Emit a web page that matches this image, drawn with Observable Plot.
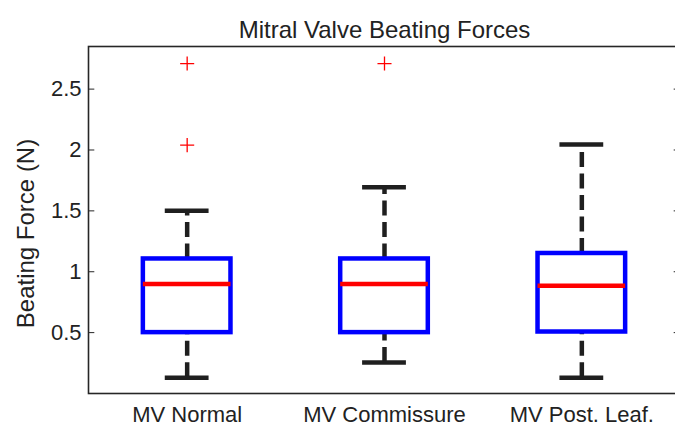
<!DOCTYPE html>
<html><head><meta charset="utf-8">
<script src="https://cdn.jsdelivr.net/npm/d3@7"></script>
<script src="https://cdn.jsdelivr.net/npm/@observablehq/plot@0.6"></script>
<style>html,body{margin:0;padding:0;background:#fff;overflow:hidden;width:675px;height:428px}</style>
</head><body><div id="chart"></div>
<script>
const title = "Mitral Valve Beating Forces";
const yLabel = "Beating Force (N)";
const categories = ["MV Normal", "MV Commissure", "MV Post. Leaf."];
const whiskerLow = [0.13, 0.255, 0.13];
const q1 = [0.5, 0.5, 0.505];
const median = [0.9, 0.9, 0.885];
const q3 = [1.105, 1.105, 1.15];
const whiskerHigh = [1.5, 1.695, 2.045];
const outlierGroup = ["MV Normal", "MV Normal", "MV Commissure"];
const outlierValue = [2.71, 2.04, 2.71];
const yTicks = [0.5, 1, 1.5, 2, 2.5];

const positions = categories.map((d, i) => i + 1);
const boxes = categories.map((c, i) => ({pos: i + 1, lo: whiskerLow[i], q1: q1[i], med: median[i], q3: q3[i], hi: whiskerHigh[i]}));
const outliers = outlierGroup.map((c, i) => ({pos: categories.indexOf(c) + 1, value: outlierValue[i]}));
const boxHalf = 0.222, capHalf = 0.111, tickLen = 0.032;
const ink = "#1f1f1f";

const chart = Plot.plot({
  width: 675, height: 428,
  marginLeft: 88, marginRight: -5, marginTop: 46, marginBottom: 35,
  style: {fontFamily: "'Liberation Sans', Arial, sans-serif", fontSize: "22px", color: "#222", background: "white", overflow: "visible"},
  x: {domain: [0.5, 3.5]},
  y: {domain: [0, 2.85]},
  marks: [
    Plot.frame({stroke: "#262626", strokeWidth: 1.6}),
    Plot.axisY(yTicks, {tickSize: 0, tickPadding: 7, label: null, tickFormat: d => String(d), fontSize: 22}),
    Plot.ruleY(yTicks, {x1: 0.5, x2: 0.5 + tickLen, stroke: "#262626", strokeWidth: 1}),
    Plot.ruleY(yTicks, {x1: 3.5 - tickLen, x2: 3.5, stroke: "#262626", strokeWidth: 1}),
    Plot.axisX(positions, {tickSize: 0, tickPadding: 13, tickFormat: d => categories[d - 1], label: null, fontSize: 22}),
    Plot.ruleX(boxes, {x: "pos", y1: "q3", y2: "hi", stroke: ink, strokeWidth: 4.5, strokeDasharray: "15,6.5"}),
    Plot.ruleX(boxes, {x: "pos", y1: "lo", y2: "q1", stroke: ink, strokeWidth: 4.5, strokeDasharray: "15,6.5"}),
    Plot.ruleY(boxes, {y: "hi", x1: d => d.pos - capHalf, x2: d => d.pos + capHalf, stroke: ink, strokeWidth: 4.5}),
    Plot.ruleY(boxes, {y: "lo", x1: d => d.pos - capHalf, x2: d => d.pos + capHalf, stroke: ink, strokeWidth: 4.5}),
    Plot.rect(boxes, {x1: d => d.pos - boxHalf, x2: d => d.pos + boxHalf, y1: "q1", y2: "q3", fill: "none", stroke: "#0000ff", strokeWidth: 4.5}),
    Plot.ruleY(boxes, {y: "med", x1: d => d.pos - boxHalf, x2: d => d.pos + boxHalf, stroke: "#ff0000", strokeWidth: 4.5}),
    Plot.dot(outliers, {x: "pos", y: "value", symbol: "plus", r: 4.6, stroke: "#ff0000", strokeWidth: 1.3}),
    Plot.text([title], {frameAnchor: "top", dy: -25.5, fontSize: 24, text: d => d}),
    Plot.text([yLabel], {frameAnchor: "left", textAnchor: "middle", dx: -55, dy: 13.5, rotate: -90, lineAnchor: "bottom", fontSize: 24, text: d => d})
  ]
});
document.getElementById("chart").appendChild(chart);
</script>
</body></html>
